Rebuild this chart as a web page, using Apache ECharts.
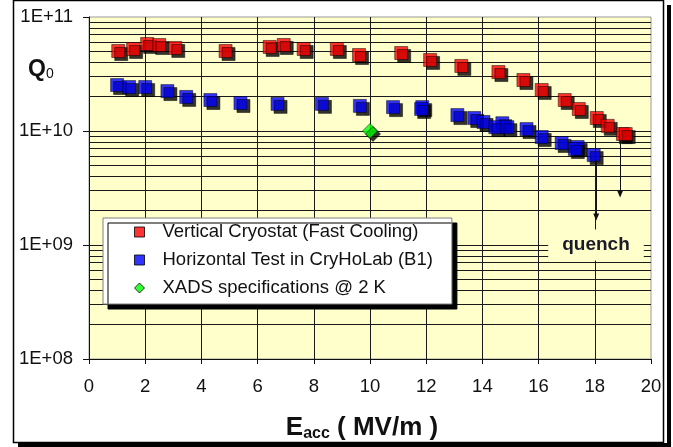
<!DOCTYPE html>
<html>
<head>
<meta charset="utf-8">
<script src="https://cdn.jsdelivr.net/npm/echarts@6/dist/echarts.min.js"></script>
<style>
  html, body { margin: 0; padding: 0; background: #fff; }
  #chart { width: 673px; height: 447px; }
</style>
</head>
<body>
<div id="chart"></div>
<script>
// Vertical cryostat (fast cooling)
var verticalE = [1.04, 1.57, 2.07, 2.5, 3.07, 4.86, 6.43, 6.93, 7.64, 8.82, 9.61, 11.11, 12.14, 13.25, 14.57, 15.46, 16.11, 16.93, 17.43, 18.07, 18.46, 19.0, 19.1];
var verticalQ = [5.03e10, 5.24e10, 5.8e10, 5.68e10, 5.35e10, 5.03e10, 5.46e10, 5.68e10, 5.24e10, 5.24e10, 4.64e10, 4.83e10, 4.2e10, 3.72e10, 3.29e10, 2.8e10, 2.29e10, 1.87e10, 1.56e10, 1.3e10, 1.11e10, 9.4e9, 9.4e9];

// Horizontal test in CryHoLab (B1)
var horizontalE = [1.0, 1.43, 2.0, 2.79, 3.46, 4.32, 5.39, 6.71, 8.29, 9.64, 10.82, 11.86, 11.82, 13.11, 13.71, 14.04, 14.71, 14.46, 14.89, 15.57, 16.11, 16.82, 17.39, 17.29, 17.96];
var horizontalQ = [2.53e10, 2.43e10, 2.43e10, 2.24e10, 1.99e10, 1.87e10, 1.76e10, 1.73e10, 1.73e10, 1.66e10, 1.62e10, 1.62e10, 1.56e10, 1.38e10, 1.3e10, 1.2e10, 1.17e10, 1.08e10, 1.08e10, 1.04e10, 8.86e9, 7.85e9, 7.24e9, 6.95e9, 6.15e9];

// XADS specification
var xadsE = [10];
var xadsQ = [1e10];

// quench arrows: [E, Q from, Q to]
var quenchBlue = [18.05, 5.6e9, 1.76e9];
var quenchRed = [18.9, 8.3e9, 2.8e9];

var seriesNames = ['Vertical Cryostat (Fast Cooling)', 'Horizontal Test in CryHoLab (B1)', 'XADS specifications @ 2 K'];
var xTicks = [0, 20, 2]; // min, max, interval
var yRange = [1e8, 1e11];

// minor log gridlines 2..9 in each decade
var minorGrid = [2e8, 3e8, 4e8, 5e8, 6e8, 7e8, 8e8, 9e8,
                 2e9, 3e9, 4e9, 5e9, 6e9, 7e9, 8e9, 9e9,
                 2e10, 3e10, 4e10, 5e10, 6e10, 7e10, 8e10, 9e10];

function pairs(xs, ys) {
  return xs.map(function (x, i) { return [x, ys[i]]; });
}

function markStyle(color) {
  return {
    color: color,
    borderColor: '#000',
    borderWidth: 0.6,
    shadowColor: '#000',
    shadowBlur: 0,
    shadowOffsetX: 3,
    shadowOffsetY: 3
  };
}

var FONT = '"Liberation Sans", Arial, sans-serif';
var chart = echarts.init(document.getElementById('chart'));

chart.setOption({
  backgroundColor: '#fff',
  animation: false,
  textStyle: { fontFamily: FONT },
  grid: {
    left: 89, right: 22, top: 17, bottom: 88,
    show: true,
    backgroundColor: '#FFFFCC',
    borderColor: '#9a9a9a',
    borderWidth: 1
  },
  legend: {
    data: seriesNames,
    orient: 'vertical',
    left: 103,
    top: 218,
    padding: [4, 19, 6, 31],
    itemGap: 8,
    itemWidth: 10,
    itemHeight: 10,
    backgroundColor: '#fff',
    borderColor: '#808080',
    borderWidth: 1,
    shadowColor: '#000',
    shadowBlur: 0,
    shadowOffsetX: 5,
    shadowOffsetY: 5,
    itemStyle: {
      shadowColor: 'rgba(0,0,0,0)',
      shadowBlur: 0,
      shadowOffsetX: 0,
      shadowOffsetY: 0,
      borderColor: '#000',
      borderWidth: 1
    },
    textStyle: {
      fontFamily: FONT,
      fontSize: 18.5,
      color: '#111',
      lineHeight: 20,
      padding: [0, 0, 0, 13]
    }
  },
  xAxis: {
    type: 'value',
    min: xTicks[0],
    max: xTicks[1],
    interval: xTicks[2],
    name: '{e|E}{s|acc}{e| ( MV/m )}',
    nameLocation: 'middle',
    nameGap: 55,
    nameTextStyle: {
      padding: [0, 16, 0, 0],
      rich: {
        e: { fontFamily: FONT, fontSize: 26, fontWeight: 'bold', color: '#111', lineHeight: 28 },
        s: { fontFamily: FONT, fontSize: 16, fontWeight: 'bold', color: '#111', lineHeight: 16, verticalAlign: 'bottom' }
      }
    },
    axisLine: { lineStyle: { color: '#111', width: 1 } },
    axisTick: { show: true, length: 5, lineStyle: { color: '#111' } },
    axisLabel: { fontFamily: FONT, fontSize: 18.5, color: '#111', margin: 18 },
    splitLine: { show: true, showMaxLine: false, lineStyle: { color: '#1a1a1a', width: 1 } }
  },
  yAxis: {
    type: 'log',
    logBase: 10,
    min: yRange[0],
    max: yRange[1],
    axisLine: { show: true, lineStyle: { color: '#111', width: 1 } },
    axisTick: { show: true, length: 6, lineStyle: { color: '#111' } },
    axisLabel: {
      fontFamily: FONT, fontSize: 18.5, color: '#111', margin: 16,
      formatter: function (v) {
        var e = Math.round(Math.log10(v));
        return '1E+' + (e < 10 ? '0' + e : e);
      }
    },
    splitLine: { show: true, showMaxLine: false, lineStyle: { color: '#1a1a1a', width: 1 } }
  },
  series: [
    {
      name: seriesNames[0],
      type: 'scatter',
      symbol: 'rect',
      symbolSize: 13,
      itemStyle: markStyle('#FF0000'),
      data: pairs(verticalE, verticalQ),
      markLine: {
        silent: true,
        symbol: ['none', 'triangle'],
        symbolSize: [6, 7],
        label: { show: false },
        lineStyle: { color: '#111', width: 1, type: 'solid' },
        data: [
          [{ coord: [quenchBlue[0], quenchBlue[1]] }, { coord: [quenchBlue[0], quenchBlue[2]] }],
          [{ coord: [quenchRed[0], quenchRed[1]] }, { coord: [quenchRed[0], quenchRed[2]] }]
        ]
      }
    },
    {
      name: seriesNames[1],
      type: 'scatter',
      symbol: 'rect',
      symbolSize: 13,
      itemStyle: markStyle('#0000FF'),
      data: pairs(horizontalE, horizontalQ)
    },
    {
      name: seriesNames[2],
      type: 'scatter',
      symbol: 'diamond',
      symbolSize: 15,
      itemStyle: markStyle('#00FF00'),
      data: pairs(xadsE, xadsQ),
      markLine: {
        silent: true,
        z: 1,
        symbol: 'none',
        label: { show: false },
        lineStyle: { color: '#1a1a1a', width: 1, type: 'solid' },
        data: minorGrid.map(function (v) { return { yAxis: v }; })
      }
    }
  ],
  graphic: [
    // outer frame and its shadow
    { type: 'rect', shape: { x: 667, y: 5, width: 4, height: 442 }, style: { fill: '#000' }, z: 100 },
    { type: 'rect', shape: { x: 18, y: 443, width: 653, height: 4 }, style: { fill: '#000' }, z: 100 },
    { type: 'rect', shape: { x: 13.5, y: 0.5, width: 650, height: 442 }, style: { fill: 'none', stroke: '#000', lineWidth: 1.5 }, z: 100 },
    {
      type: 'text', left: 28, top: 58, z: 50,
      style: {
        text: '{q|Q}{s|0}',
        rich: {
          q: { fontFamily: FONT, fontSize: 23, fontWeight: 'bold', fill: '#111', lineHeight: 24 },
          s: { fontFamily: FONT, fontSize: 14, fill: '#111', lineHeight: 14, verticalAlign: 'bottom' }
        }
      }
    },
    {
      type: 'text', x: 596, y: 245, z: 50,
      style: {
        text: 'quench',
        fontFamily: FONT, fontSize: 19, fontWeight: 'bold', fill: '#1a1a2a',
        align: 'center', verticalAlign: 'middle',
        backgroundColor: '#FFFFCC',
        padding: [6, 14, 6, 14]
      }
    }
  ]
});
</script>
</body>
</html>
